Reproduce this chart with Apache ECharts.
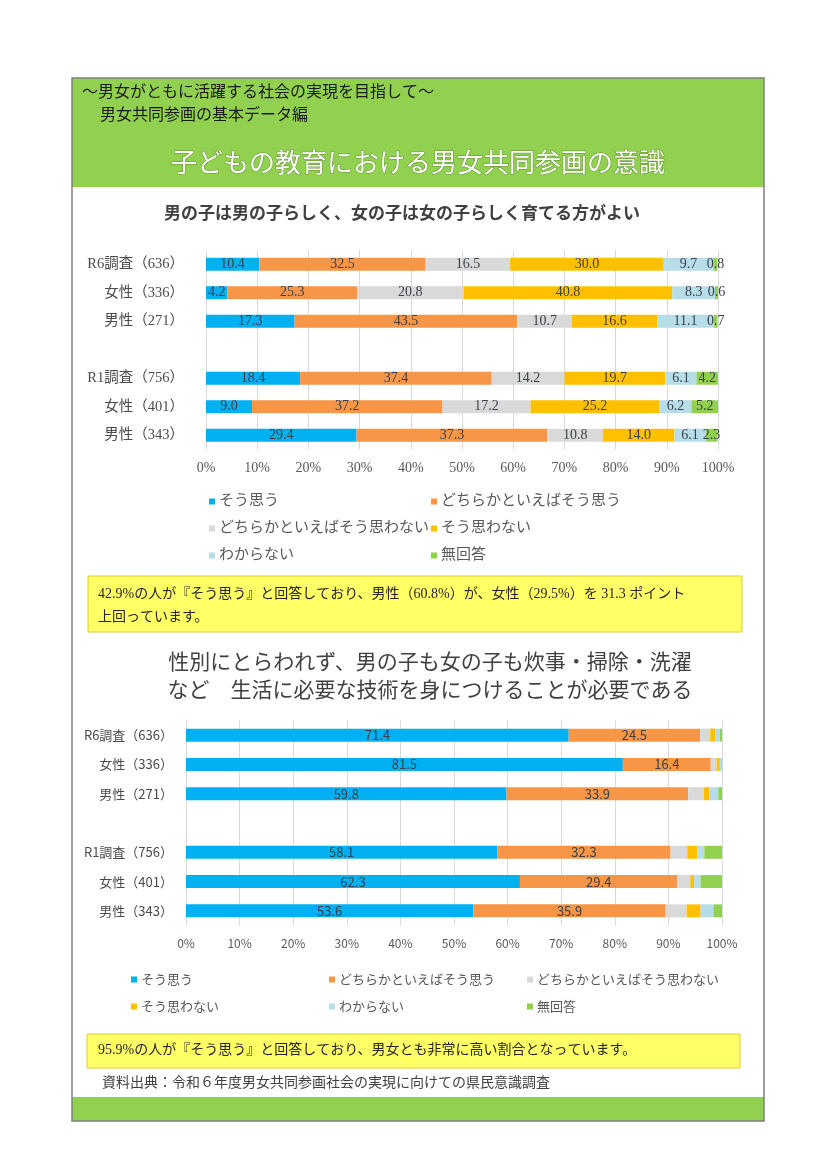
<!DOCTYPE html>
<html>
<head>
<meta charset="utf-8">
<script src="https://cdn.jsdelivr.net/npm/echarts@6/dist/echarts.min.js"></script>
<style>
  html, body { margin: 0; padding: 0; background: #fff; }
  #main { width: 826px; height: 1169px; }
</style>
</head>
<body>
<div id="main"></div>
<script>
// categories (empty row separates the R6 and R1 surveys)
const rows = ['R6調査（636）', '女性（336）', '男性（271）', '', 'R1調査（756）', '女性（401）', '男性（343）']
const answers = ['そう思う', 'どちらかといえばそう思う', 'どちらかといえばそう思わない', 'そう思わない', 'わからない', '無回答']
const ticks = ['0%', '10%', '20%', '30%', '40%', '50%', '60%', '70%', '80%', '90%', '100%']

// 男の子は男の子らしく、女の子は女の子らしく育てる方がよい
const q1Agree = [10.4, 4.2, 17.3, '-', 18.4, 9.0, 29.4]
const q1SomewhatAgree = [32.5, 25.3, 43.5, '-', 37.4, 37.2, 37.3]
const q1SomewhatDisagree = [16.5, 20.8, 10.7, '-', 14.2, 17.2, 10.8]
const q1Disagree = [30.0, 40.8, 16.6, '-', 19.7, 25.2, 14.0]
const q1DontKnow = [9.7, 8.3, 11.1, '-', 6.1, 6.2, 6.1]
const q1NoAnswer = [0.8, 0.6, 0.7, '-', 4.2, 5.2, 2.3]

// 性別にとらわれず、…生活に必要な技術を身につけることが必要である
const q2Agree = [71.4, 81.5, 59.8, '-', 58.1, 62.3, 53.6]
const q2SomewhatAgree = [24.5, 16.4, 33.9, '-', 32.3, 29.4, 35.9]
const q2SomewhatDisagree = [1.9, 1.1, 2.9, '-', 3.1, 2.4, 3.9]
const q2Disagree = [0.9, 0.6, 1.1, '-', 1.9, 0.7, 2.6]
const q2DontKnow = [0.9, 0.3, 1.6, '-', 1.3, 1.2, 2.4]
const q2NoAnswer = [0.4, 0.1, 0.7, '-', 3.3, 4.0, 1.6]

const colors = ['#00B0F0', '#F79646', '#D9D9D9', '#FFC000', '#B7DEE8', '#92D050']
const serif = '"Liberation Serif", "Noto Sans CJK JP", serif'
const sans = '"Noto Sans CJK JP", sans-serif'

const chart = echarts.init(document.getElementById('main'), null, { renderer: 'canvas' })

function barSeries (data, idx, gridIdx, showLabel, font, size) {
  return {
    name: answers[idx],
    type: 'bar',
    stack: 'q' + gridIdx,
    xAxisIndex: gridIdx,
    yAxisIndex: gridIdx,
    barWidth: 13,
    itemStyle: { color: colors[idx] },
    label: {
      show: showLabel,
      position: 'inside',
      color: '#3a3f48',
      fontFamily: font,
      fontSize: size,
      formatter: p => (typeof p.value === 'number' ? p.value.toFixed(1) : '')
    },
    emphasis: { disabled: true },
    data: data
  }
}

function valueAxis (gridIdx, font, fontSize) {
  return {
    type: 'value',
    gridIndex: gridIdx,
    min: 0,
    max: 100,
    interval: 10,
    axisLine: { show: false },
    axisTick: { show: false },
    splitLine: { lineStyle: { color: '#D9D9D9', width: 1 } },
    axisLabel: {
      margin: 12,
      color: '#595959',
      fontFamily: font,
      fontSize: fontSize,
      formatter: v => ticks[Math.round(v / 10)]
    }
  }
}

function catAxis (gridIdx, font, size, margin) {
  return {
    type: 'category',
    gridIndex: gridIdx,
    inverse: true,
    data: rows,
    axisLine: { show: false },
    axisTick: { show: false },
    axisLabel: { margin: margin, color: '#4a4a4a', fontFamily: font, fontSize: size }
  }
}

function legendItem (name, left, top, font, size) {
  return {
    data: [name],
    left: left,
    top: top,
    icon: 'rect',
    itemWidth: 6,
    itemHeight: 6,
    itemGap: 0,
    selectedMode: false,
    textStyle: { color: '#595959', fontFamily: font, fontSize: size, padding: [0, 0, 0, -1] }
  }
}

const q1Data = [q1Agree, q1SomewhatAgree, q1SomewhatDisagree, q1Disagree, q1DontKnow, q1NoAnswer]
const q2Data = [q2Agree, q2SomewhatAgree, q2SomewhatDisagree, q2Disagree, q2DontKnow, q2NoAnswer]

const option = {
  animation: false,
  backgroundColor: '#fff',
  grid: [
    { left: 206, right: 826 - 718, top: 250, height: 199.5 },
    { left: 186, right: 826 - 722, top: 720.5, height: 205 }
  ],
  xAxis: [valueAxis(0, serif, 14), valueAxis(1, sans, 12)],
  yAxis: [catAxis(0, serif, 14.5, 22), catAxis(1, sans, 13, 13)],
  legend: [
    legendItem(answers[0], 204, 489, serif, 15),
    legendItem(answers[1], 426, 489, serif, 15),
    legendItem(answers[2], 204, 516, serif, 15),
    legendItem(answers[3], 426, 516, serif, 15),
    legendItem(answers[4], 204, 543, serif, 15),
    legendItem(answers[5], 426, 543, serif, 15),
    legendItem(answers[0], 126, 968, sans, 13),
    legendItem(answers[1], 324, 968, sans, 13),
    legendItem(answers[2], 522, 968, sans, 13),
    legendItem(answers[3], 126, 995, sans, 13),
    legendItem(answers[4], 324, 995, sans, 13),
    legendItem(answers[5], 522, 995, sans, 13)
  ],
  series: [
    ...q1Data.map((d, i) => barSeries(d, i, 0, true, serif, 14)),
    ...q2Data.map((d, i) => barSeries(d, i, 1, i < 2, sans, 13))
  ],
  graphic: [
    // header band
    { type: 'rect', shape: { x: 72, y: 78, width: 692, height: 109 }, style: { fill: '#92D050' }, z: -10 },
    { type: 'text', left: 82, top: 83, style: { text: '～男女がともに活躍する社会の実現を目指して～', fill: '#1a1a1a', font: '16px ' + sans } },
    { type: 'text', left: 100, top: 106, style: { text: '男女共同参画の基本データ編', fill: '#1a1a1a', font: '16px ' + sans } },
    { type: 'text', x: 418, y: 162, style: { text: '子どもの教育における男女共同参画の意識', fill: '#fff', font: '26px ' + sans, align: 'center', verticalAlign: 'middle', stroke: 'rgba(60,100,25,0.6)', lineWidth: 1 } },
    // chart titles
    { type: 'text', x: 402, y: 213, style: { text: '男の子は男の子らしく、女の子は女の子らしく育てる方がよい', fill: '#404040', font: 'bold 17px ' + sans, align: 'center', verticalAlign: 'middle' } },
    { type: 'text', x: 430, y: 661, style: { text: '性別にとらわれず、男の子も女の子も炊事・掃除・洗濯', fill: '#404040', font: '21px ' + sans, align: 'center', verticalAlign: 'middle' } },
    { type: 'text', x: 430, y: 689, style: { text: 'など　生活に必要な技術を身につけることが必要である', fill: '#404040', font: '21px ' + sans, align: 'center', verticalAlign: 'middle' } },
    // note boxes
    { type: 'rect', shape: { x: 88, y: 576, width: 654, height: 56 }, style: { fill: '#FFFF66', stroke: '#E0CC30', lineWidth: 1 }, z: -5 },
    { type: 'text', left: 98, top: 583, style: { text: '42.9%の人が『そう思う』と回答しており、男性（60.8%）が、女性（29.5%）を 31.3 ポイント\n上回っています。', fill: '#262626', font: '14px ' + serif, lineHeight: 23 } },
    { type: 'rect', shape: { x: 87, y: 1034, width: 653, height: 34 }, style: { fill: '#FFFF66', stroke: '#E0CC30', lineWidth: 1 }, z: -5 },
    { type: 'text', left: 98, top: 1043, style: { text: '95.9%の人が『そう思う』と回答しており、男女とも非常に高い割合となっています。', fill: '#262626', font: '14px ' + serif } },
    // source
    { type: 'text', left: 102, top: 1076, style: { text: '資料出典：令和６年度男女共同参画社会の実現に向けての県民意識調査', fill: '#404040', font: '14px ' + serif } },
    // footer band and frame
    { type: 'rect', shape: { x: 72, y: 1097, width: 692, height: 24 }, style: { fill: '#92D050' }, z: -10 },
    { type: 'rect', shape: { x: 72, y: 78, width: 692, height: 1043 }, style: { fill: 'none', stroke: '#7F7F7F', lineWidth: 1.5 }, z: 10 }
  ]
}

chart.setOption(option)
</script>
</body>
</html>
